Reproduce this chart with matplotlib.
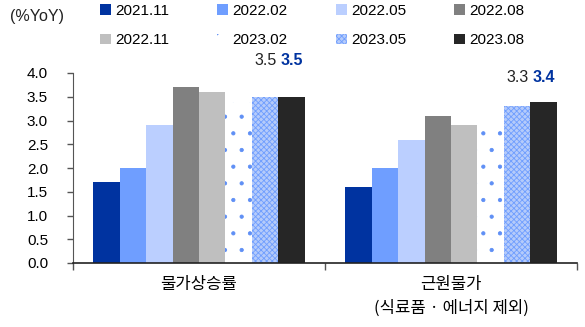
import numpy as np
import matplotlib
matplotlib.use('Agg')
import matplotlib.pyplot as plt

plt.rcParams['font.family'] = ['Liberation Sans', 'Noto Sans CJK KR', 'DejaVu Sans']
plt.rcParams['hatch.linewidth'] = 0.6

# data
categories = ['물가상승률', '근원물가\n(식료품 · 에너지 제외)']
series = ['2021.11', '2022.02', '2022.05', '2022.08', '2022.11', '2023.02', '2023.05', '2023.08']
values = [
    [1.7, 1.6],   # 2021.11
    [2.0, 2.0],   # 2022.02
    [2.9, 2.6],   # 2022.05
    [3.7, 3.1],   # 2022.08
    [3.6, 2.9],   # 2022.11
    [3.4, 3.0],   # 2023.02
    [3.5, 3.3],   # 2023.05
    [3.5, 3.4],   # 2023.08
]
label_prev = ['3.5', '3.3']   # 2023.05
label_new = ['3.5', '3.4']    # 2023.08
label_y = [4.1, 3.75]

face = ['#0033A0', '#6F9EFF', '#BBCFFF', '#808080', '#BFBFBF', 'white', '#B5CBFA', '#262626']
hatch = [None, None, None, None, None, '.', 'xxxxxx', None]
edge = ['none', 'none', 'none', 'none', 'none', '#5F8FF5', '#6F9EFF', 'none']

fig = plt.figure(figsize=(5.85, 3.27), dpi=100)
ax = fig.add_axes([73/585, 64/327, 504/585, 190/327])

n = len(series)
width = 0.105
x = np.arange(len(categories))
handles = []
for i in range(n):
    pos = x - (n / 2 - 0.5) * width + i * width
    bars = ax.bar(pos, values[i], width, color=face[i], edgecolor=edge[i],
                  hatch=hatch[i], linewidth=0)
    handles.append(bars)

for j in range(len(categories)):
    p5 = x[j] - (n / 2 - 0.5) * width + 6 * width
    p8 = x[j] - (n / 2 - 0.5) * width + 7 * width
    ax.text(p5, label_y[j], label_prev[j], ha='center', va='bottom', fontsize=11.5,
            color='#222222', clip_on=False)
    ax.text(p8, label_y[j], label_new[j], ha='center', va='bottom', fontsize=11.5,
            color='#0033A0', fontweight='bold', clip_on=False)

ax.set_xlim(-0.5, 1.5)
ax.set_ylim(0, 4)
ax.set_yticks(np.arange(0, 4.01, 0.5))
ax.set_yticklabels([f'{v:.1f}' for v in np.arange(0, 4.01, 0.5)], fontsize=11)
ax.set_xticks([-0.5, 0.5, 1.5])
ax.set_xticklabels([])
ax.tick_params(axis='x', length=5, width=1, color='#555555')
ax.tick_params(axis='y', length=4, width=1, color='#555555', pad=14)
for s in ['top', 'right']:
    ax.spines[s].set_visible(False)
ax.spines['left'].set_color('#555555')
ax.spines['bottom'].set_color('#222222')
ax.spines['bottom'].set_linewidth(1.2)

for j, c in enumerate(categories):
    ax.text(x[j], -0.28, c, ha='center', va='top', fontsize=12,
            family=['Noto Sans CJK KR', 'DejaVu Sans'], linespacing=1.5)

fig.text(10/585, 1 - 17/327, '(%YoY)', ha='left', va='center', fontsize=11.5, color='#222222')

# legend reads row by row
order = [0, 4, 1, 5, 2, 6, 3, 7]
fig.legend([handles[k] for k in order], [series[k] for k in order], ncol=4,
           loc='upper left', bbox_to_anchor=(100/585, 1 - 4/327),
           frameon=False, fontsize=11, handlelength=0.7, handleheight=0.7,
           handletextpad=0.3, columnspacing=3.15, labelspacing=1.0,
           borderpad=0, borderaxespad=0)

fig.savefig('out.png', dpi=100)
